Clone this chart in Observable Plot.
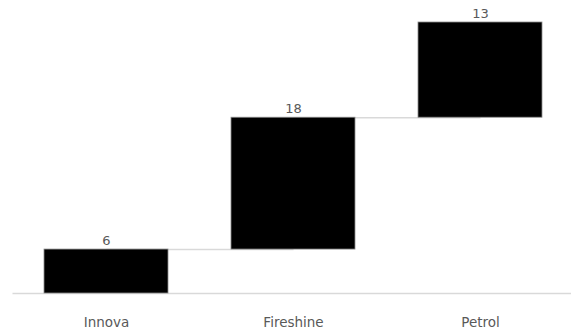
<!DOCTYPE html>
<html>
<head>
<meta charset="utf-8">
<script src="https://cdn.jsdelivr.net/npm/d3@7"></script>
<script src="https://cdn.jsdelivr.net/npm/@observablehq/plot@0.6"></script>
<style>
  html, body { margin: 0; padding: 0; background: #fff; overflow: hidden; }
  #chart svg { display: block; }
</style>
</head>
<body>
<div id="chart"></div>
<script>
// Waterfall: each step starts where the previous one ended
const categories = ["Innova", "Fireshine", "Petrol"];
const values = [6, 18, 13];

let running = 0;
const steps = categories.map((name, i) => {
  const start = running;
  running += values[i];
  return {name, value: values[i], start, end: running};
});
const connectors = steps.slice(0, -1).map((d, i) => ({
  from: d.name, to: steps[i + 1].name, level: d.end
}));

const textColor = "#595959";
const gridColor = "#d9d9d9";

const chart = Plot.plot({
  width: 571,
  height: 334,
  marginLeft: 12.5,
  marginRight: -3,
  marginTop: 22,
  marginBottom: 41,
  style: {fontFamily: "DejaVu Sans, sans-serif", background: "#fff", overflow: "visible"},
  x: {domain: categories, paddingInner: 0.336, paddingOuter: 0.168, label: null},
  y: {domain: [0, running], axis: null},
  marks: [
    Plot.ruleY([0], {stroke: gridColor, strokeWidth: 1.5}),
    Plot.link(connectors, {x1: "from", x2: "to", y1: "level", y2: "level", stroke: gridColor, strokeWidth: 1.5}),
    Plot.barY(steps, {x: "name", y1: "start", y2: "end", fill: "#000", stroke: "#8c8c8c", strokeWidth: 0.8}),
    Plot.text(steps, {x: "name", y: "end", text: d => String(d.value), dy: -9, fill: textColor, fontSize: 13, letterSpacing: 0.5}),
    Plot.axisX({tickSize: 0, tickPadding: 24, fontSize: 13.5, fill: textColor, label: null, style: {letterSpacing: "0.6px"}})
  ]
});
document.getElementById("chart").append(chart);
</script>
</body>
</html>
